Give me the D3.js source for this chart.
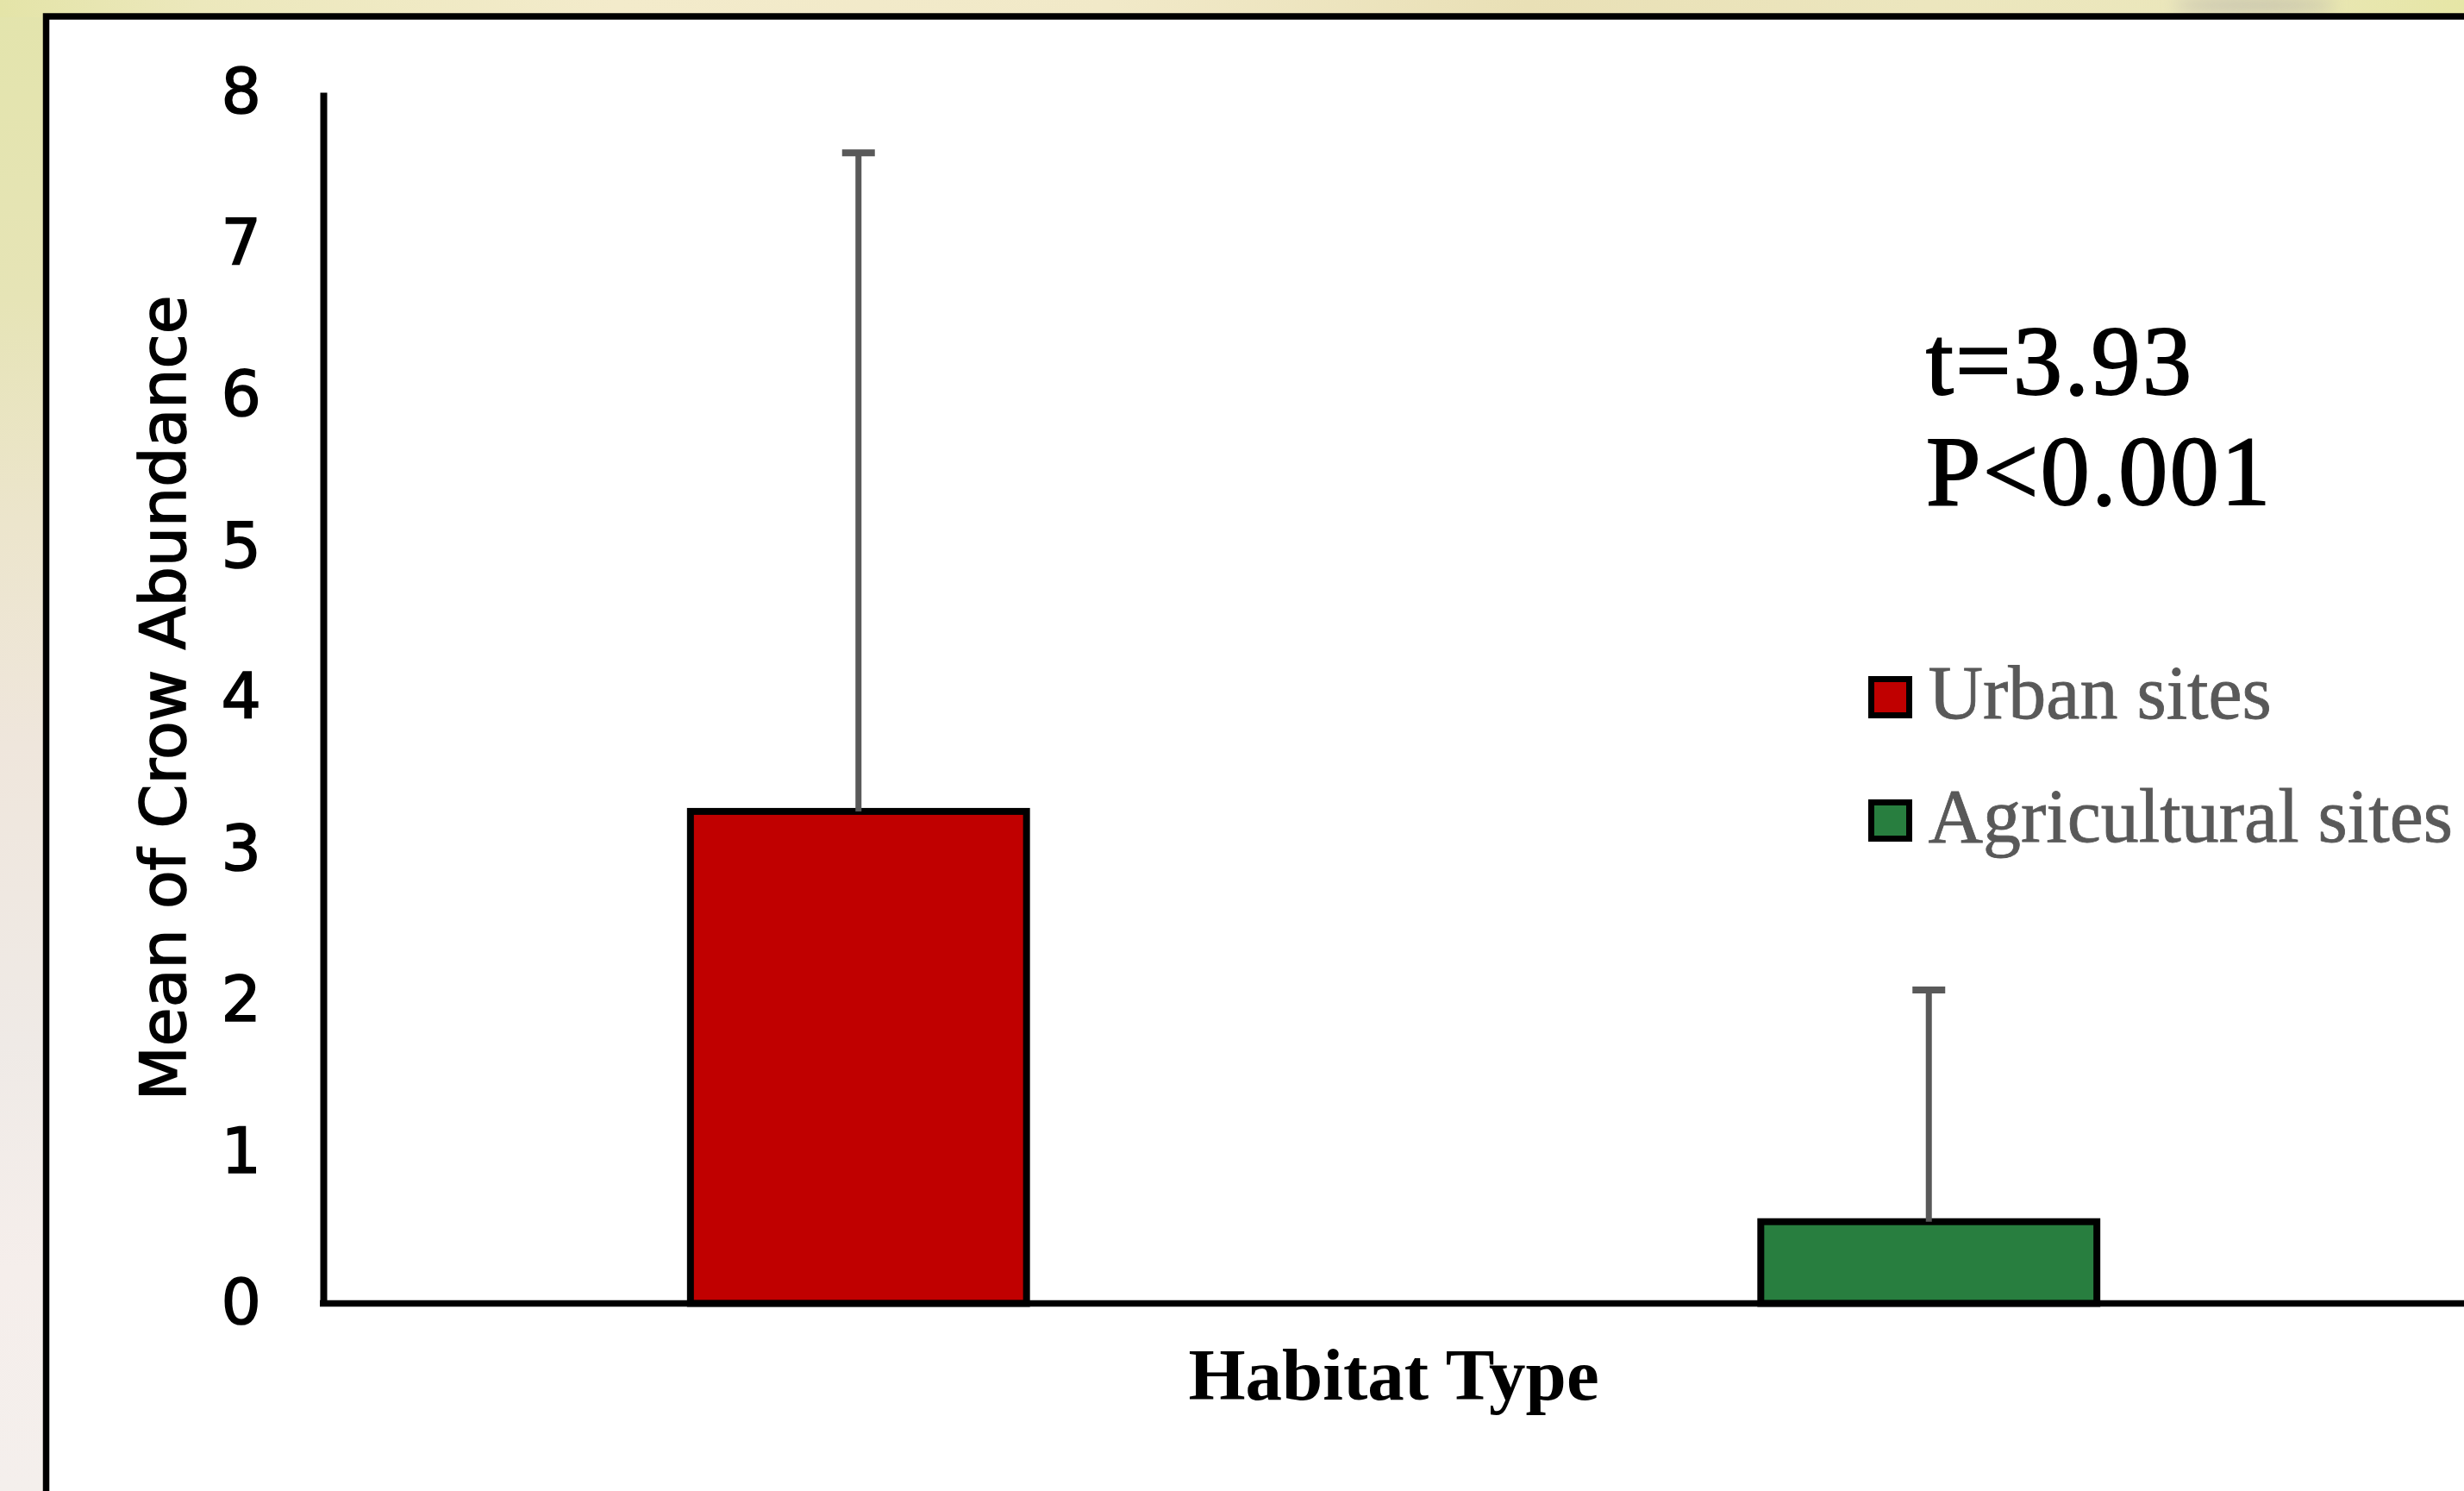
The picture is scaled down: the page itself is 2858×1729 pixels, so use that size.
<!DOCTYPE html>
<html>
<head>
<meta charset="utf-8">
<script src="https://cdn.jsdelivr.net/npm/d3@7"></script>
<style>
  html, body { margin: 0; padding: 0; background: #ffffff; overflow: hidden; }
  svg { display: block; }
</style>
</head>
<body>
<svg id="chart" width="2858" height="1729"></svg>
<script>
// Mean crow abundance by habitat type, with upper error bars
const series = ["Urban sites", "Agricultural sites"];
const means = [3.25, 0.54];
const errors = [4.35, 1.53];
const colors = ["#C00000", "#287E3F"];
const yTicks = [0, 1, 2, 3, 4, 5, 6, 7, 8];
const statLines = ["t=3.93", "P<0.001"];
const xTitle = "Habitat Type";
const yTitle = "Mean of Crow Abundance";

const W = 2858, H = 1729;
const svg = d3.select("#chart");
const defs = svg.append("defs");

// page background: soft yellow-to-blush gradients around the card
const gLeft = defs.append("linearGradient").attr("id", "bgLeft")
  .attr("x1", 0).attr("y1", 0).attr("x2", 0).attr("y2", 1);
[[0, "#e3e4ac"], [0.2, "#e6e4b6"], [0.35, "#ece5cc"], [0.5, "#efe6dc"], [0.7, "#efeae6"], [0.85, "#f5eeeb"], [1, "#f4efec"]]
  .forEach(([o, c]) => gLeft.append("stop").attr("offset", o).attr("stop-color", c));

const gTop = defs.append("linearGradient").attr("id", "bgTop")
  .attr("x1", 0).attr("y1", 0).attr("x2", 1).attr("y2", 0);
[[0, "#e4e4a8"], [0.08, "#ece8bc"], [0.25, "#f3ebcb"], [0.45, "#f1e9c8"], [0.62, "#e9e0b6"], [0.78, "#ece6be"], [0.9, "#ebe7bb"], [1, "#e6e6a6"]]
  .forEach(([o, c]) => gTop.append("stop").attr("offset", o).attr("stop-color", c));

defs.append("filter").attr("id", "soft").attr("x", "-50%").attr("y", "-100%").attr("width", "200%").attr("height", "300%")
  .append("feGaussianBlur").attr("stdDeviation", 9);

svg.append("rect").attr("x", 0).attr("y", 0).attr("width", W).attr("height", H).attr("fill", "url(#bgLeft)");
svg.append("rect").attr("x", 0).attr("y", 0).attr("width", W).attr("height", 20).attr("fill", "url(#bgTop)");
svg.append("ellipse").attr("cx", 2615).attr("cy", 6).attr("rx", 95).attr("ry", 9)
  .attr("fill", "#b9b5aa").attr("opacity", 0.7).attr("filter", "url(#soft)");

// white card with heavy black border (runs off the right and bottom edges)
svg.append("rect")
  .attr("x", 53.5).attr("y", 19)
  .attr("width", W + 20).attr("height", H + 20)
  .attr("fill", "#ffffff").attr("stroke", "#000000").attr("stroke-width", 7.5);

// scales
const plotLeft = 375, plotRight = 2858, plotTop = 107, plotBottom = 1511.5;
const y = d3.scaleLinear().domain([0, 8]).range([plotBottom, plotTop]);
const x = d3.scaleBand().domain(series).range([plotLeft, plotRight])
  .paddingInner(0.686).paddingOuter(0.343);

// y axis
const yAxis = svg.append("g")
  .attr("transform", `translate(${plotLeft},0)`)
  .call(d3.axisLeft(y).tickValues(yTicks).tickFormat(d3.format("d")).tickSize(0).tickSizeOuter(0).tickPadding(72));
yAxis.select(".domain").attr("stroke", "#000").attr("stroke-width", 8);
yAxis.selectAll(".tick text")
  .attr("font-family", "'DejaVu Sans', sans-serif")
  .attr("font-size", 73)
  .attr("fill", "#000")
  .attr("stroke", "#000").attr("stroke-width", 1.6);

// bars
svg.append("g").selectAll("rect").data(series).join("rect")
  .attr("x", d => x(d))
  .attr("y", (d, i) => y(means[i]))
  .attr("width", x.bandwidth())
  .attr("height", (d, i) => y(0) - y(means[i]))
  .attr("fill", (d, i) => colors[i])
  .attr("stroke", "#000").attr("stroke-width", 8);

// x axis baseline
svg.append("line")
  .attr("x1", plotLeft - 4).attr("x2", plotRight + 10)
  .attr("y1", y(0)).attr("y2", y(0))
  .attr("stroke", "#000").attr("stroke-width", 7.5);

// upper error bars
const eb = svg.append("g").attr("stroke", "#595959");
eb.selectAll("line.stem").data(series).join("line").attr("class", "stem")
  .attr("x1", d => x(d) + x.bandwidth() / 2).attr("x2", d => x(d) + x.bandwidth() / 2)
  .attr("y1", (d, i) => y(means[i])).attr("y2", (d, i) => y(means[i] + errors[i]))
  .attr("stroke-width", 7);
eb.selectAll("line.cap").data(series).join("line").attr("class", "cap")
  .attr("x1", d => x(d) + x.bandwidth() / 2 - 19).attr("x2", d => x(d) + x.bandwidth() / 2 + 19)
  .attr("y1", (d, i) => y(means[i] + errors[i])).attr("y2", (d, i) => y(means[i] + errors[i]))
  .attr("stroke-width", 8);

// axis titles
svg.append("text")
  .attr("x", (plotLeft + plotRight) / 2).attr("y", 1623)
  .attr("text-anchor", "middle")
  .attr("font-family", "'Liberation Serif', serif").attr("font-weight", "bold")
  .attr("font-size", 85).attr("fill", "#000")
  .text(xTitle);

svg.append("text")
  .attr("transform", `translate(215,${(plotTop + plotBottom) / 2}) rotate(-90)`)
  .attr("text-anchor", "middle")
  .attr("font-family", "'DejaVu Sans', sans-serif")
  .attr("font-size", 73).attr("fill", "#000")
  .attr("stroke", "#000").attr("stroke-width", 1.6)
  .text(yTitle);

// test statistics
svg.append("g").selectAll("text").data(statLines).join("text")
  .attr("x", 2234).attr("y", (d, i) => 457 + i * 128)
  .attr("font-family", "'Liberation Serif', serif")
  .attr("font-size", 114).attr("fill", "#000")
  .attr("letter-spacing", 2.5)
  .attr("stroke", "#000").attr("stroke-width", 2)
  .text(d => d);

// legend
const legend = svg.append("g").attr("transform", "translate(2170.5,787.5)");
const rows = legend.selectAll("g").data(series).join("g")
  .attr("transform", (d, i) => `translate(0,${i * 143})`);
rows.append("rect")
  .attr("width", 44).attr("height", 42)
  .attr("fill", (d, i) => colors[i])
  .attr("stroke", "#000").attr("stroke-width", 7);
rows.append("text")
  .attr("x", 66).attr("y", 45.5)
  .attr("font-family", "'Liberation Serif', serif")
  .attr("font-size", 88).attr("fill", "#595959")
  .attr("stroke", "#595959").attr("stroke-width", 0.8)
  .text(d => d);
</script>
</body>
</html>
